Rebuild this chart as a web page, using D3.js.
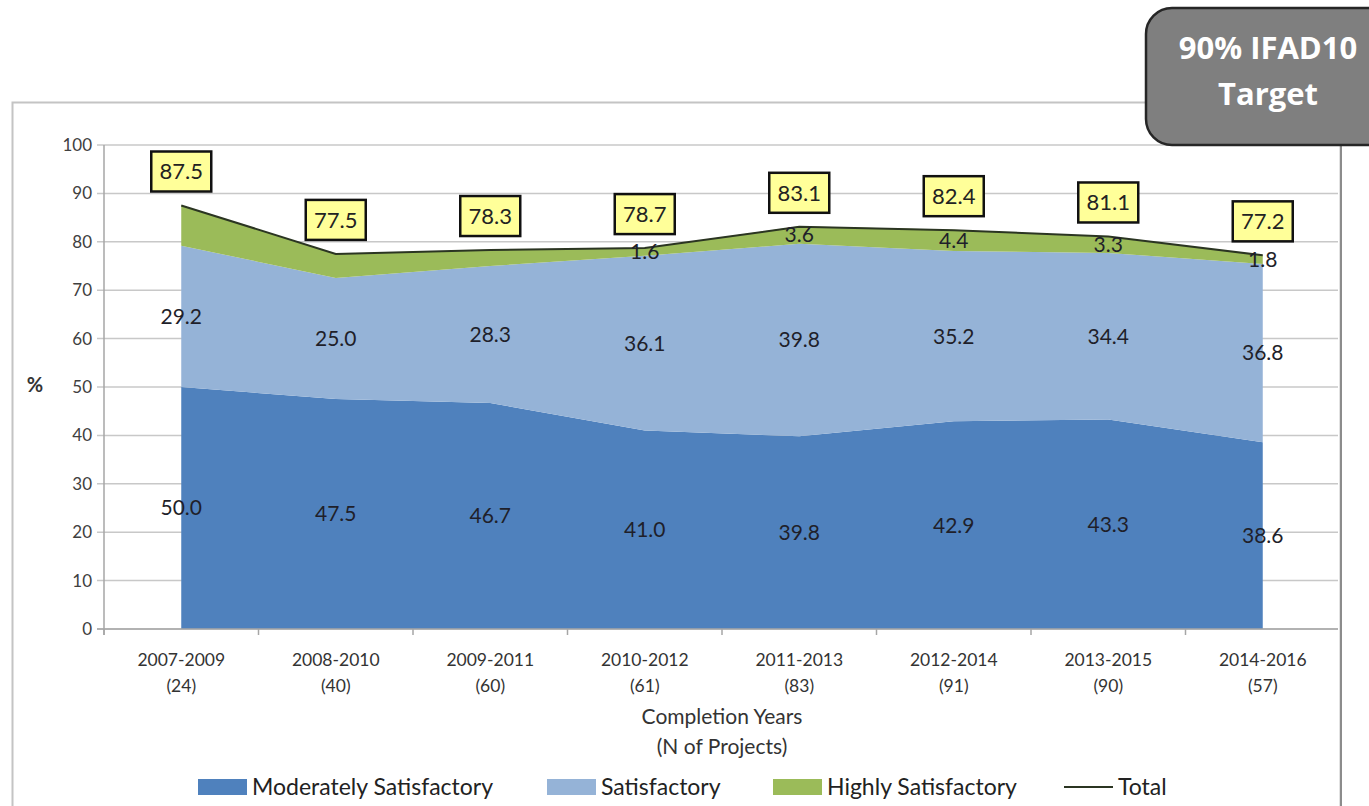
<!DOCTYPE html>
<html>
<head>
<meta charset="utf-8">
<script src="https://cdn.jsdelivr.net/npm/d3@7"></script>
<style>
  body { margin: 0; background: #fff; }
  svg { font-family: Lato, "Open Sans", sans-serif; }
</style>
</head>
<body>
<div id="chart"></div>
<script>
const periods = ["2007-2009", "2008-2010", "2009-2011", "2010-2012", "2011-2013", "2012-2014", "2013-2015", "2014-2016"];
const projectCounts = [24, 40, 60, 61, 83, 91, 90, 57];
const moderately = [50.0, 47.5, 46.7, 41.0, 39.8, 42.9, 43.3, 38.6];
const satisfactory = [29.2, 25.0, 28.3, 36.1, 39.8, 35.2, 34.4, 36.8];
const highly = [8.3, 5.0, 3.3, 1.6, 3.6, 4.4, 3.3, 1.8];
const highlyLabelShown = [false, false, false, true, true, true, true, true];
const total = [87.5, 77.5, 78.3, 78.7, 83.1, 82.4, 81.1, 77.2];
const yTicks = [0, 10, 20, 30, 40, 50, 60, 70, 80, 90, 100];

const W = 1369, H = 806;
const plot = { left: 104, right: 1340, top: 145, bottom: 629 };

const svg = d3.select("#chart").append("svg")
  .attr("width", W).attr("height", H);

// chart frame
svg.append("rect")
  .attr("x", 12.5).attr("y", 102.5)
  .attr("width", 1328).attr("height", 720)
  .attr("fill", "none").attr("stroke", "#c4c4c4").attr("stroke-width", 2);
svg.append("line")
  .attr("x1", 1341).attr("x2", 1341).attr("y1", 102).attr("y2", H)
  .attr("stroke", "#8c8c8c").attr("stroke-width", 2);

const x = d3.scaleBand().domain(periods).range([plot.left, plot.right]);
const cx = (d) => x(d) + x.bandwidth() / 2;
const y = d3.scaleLinear().domain([0, 100]).range([plot.bottom, plot.top]);

// gridlines
svg.append("g")
  .selectAll("line")
  .data(yTicks)
  .enter()
  .append("line")
  .attr("x1", plot.left - 7).attr("x2", plot.right - 2)
  .attr("y1", (d) => y(d)).attr("y2", (d) => y(d))
  .attr("stroke", "#c8c8c8").attr("stroke-width", 1.5);

// y axis labels
svg.append("g")
  .selectAll("text")
  .data(yTicks)
  .enter()
  .append("text")
  .attr("x", 92).attr("y", (d) => y(d))
  .attr("dy", "0.35em")
  .attr("text-anchor", "end")
  .attr("font-size", 17)
  .attr("fill", "#404040")
  .text((d) => d);

svg.append("text")
  .attr("x", 35).attr("y", 392)
  .attr("text-anchor", "middle")
  .attr("font-size", 20).attr("font-weight", "bold")
  .attr("fill", "#333")
  .text("%");

// stacked areas
const rows = periods.map((p, i) => ({
  period: p,
  moderately: moderately[i],
  satisfactory: satisfactory[i],
  highly: highly[i],
}));
const keys = ["moderately", "satisfactory", "highly"];
const colors = { moderately: "#4f81bd", satisfactory: "#95b3d7", highly: "#9bbb59" };
const series = d3.stack().keys(keys)(rows);

const area = d3.area()
  .x((d) => cx(d.data.period))
  .y0((d) => y(d[0]))
  .y1((d) => y(d[1]));

svg.append("g")
  .selectAll("path")
  .data(series)
  .enter()
  .append("path")
  .attr("d", area)
  .attr("fill", (d) => colors[d.key]);

// axes lines
svg.append("line")
  .attr("x1", plot.left).attr("x2", plot.left)
  .attr("y1", plot.top).attr("y2", plot.bottom + 6)
  .attr("stroke", "#a6a6a6").attr("stroke-width", 1.5);
svg.append("line")
  .attr("x1", plot.left - 7).attr("x2", plot.right - 2)
  .attr("y1", plot.bottom).attr("y2", plot.bottom)
  .attr("stroke", "#a6a6a6").attr("stroke-width", 1.5);
svg.append("g")
  .selectAll("line")
  .data(periods)
  .enter()
  .append("line")
  .attr("x1", (d) => x(d)).attr("x2", (d) => x(d))
  .attr("y1", plot.bottom).attr("y2", plot.bottom + 6)
  .attr("stroke", "#a6a6a6").attr("stroke-width", 1.5);

// total line
const totalLine = d3.line()
  .x((d, i) => cx(periods[i]))
  .y((d) => y(d));
svg.append("path")
  .datum(total)
  .attr("d", totalLine)
  .attr("fill", "none")
  .attr("stroke", "#2b3522")
  .attr("stroke-width", 2);

// segment labels
const labelG = svg.append("g")
  .attr("font-size", 21)
  .attr("fill", "#1f1f2a")
  .attr("text-anchor", "middle");

series.forEach((s) => {
  labelG.selectAll(null)
    .data(s.filter((d, i) => s.key !== "highly" || highlyLabelShown[i]))
    .enter()
    .append("text")
    .attr("x", (d) => cx(d.data.period))
    .attr("y", (d) => y((d[0] + d[1]) / 2))
    .attr("dy", "0.35em")
    .text((d) => (d[1] - d[0]).toFixed(1));
});

// total labels in yellow boxes
const boxW = 60, boxH = 40;
const totalG = svg.append("g")
  .selectAll("g")
  .data(total)
  .enter()
  .append("g")
  .attr("transform", (d, i) => `translate(${cx(periods[i])},${y(d) - 34})`);
totalG.append("rect")
  .attr("x", -boxW / 2).attr("y", -boxH / 2)
  .attr("width", boxW).attr("height", boxH)
  .attr("fill", "#ffff99")
  .attr("stroke", "#111").attr("stroke-width", 2.5);
totalG.append("text")
  .attr("text-anchor", "middle")
  .attr("dy", "0.36em")
  .attr("font-size", 22)
  .attr("fill", "#222")
  .text((d) => d.toFixed(1));

// x tick labels
const xLab = svg.append("g")
  .selectAll("text")
  .data(periods)
  .enter()
  .append("text")
  .attr("text-anchor", "middle")
  .attr("font-size", 17.5)
  .attr("fill", "#333");
xLab.append("tspan")
  .attr("x", (d) => cx(d)).attr("y", 666)
  .text((d) => d);
xLab.append("tspan")
  .attr("x", (d) => cx(d)).attr("y", 692)
  .text((d, i) => `(${projectCounts[i]})`);

// x axis title
svg.append("text")
  .attr("text-anchor", "middle")
  .attr("font-size", 21)
  .attr("fill", "#333")
  .selectAll("tspan")
  .data(["Completion Years", "(N of Projects)"])
  .enter()
  .append("tspan")
  .attr("x", 722)
  .attr("y", (d, i) => 724 + i * 30)
  .text((d) => d);

// legend
const legendItems = [
  { label: "Moderately Satisfactory", color: colors.moderately, x: 198, type: "box" },
  { label: "Satisfactory", color: colors.satisfactory, x: 547, type: "box" },
  { label: "Highly Satisfactory", color: colors.highly, x: 773, type: "box" },
  { label: "Total", color: "#2b3522", x: 1064, type: "line" },
];
const legend = svg.append("g")
  .selectAll("g")
  .data(legendItems)
  .enter()
  .append("g")
  .attr("transform", (d) => `translate(${d.x},787)`);
legend.filter((d) => d.type === "box")
  .append("rect")
  .attr("x", 0).attr("y", -8)
  .attr("width", 49).attr("height", 16)
  .attr("fill", (d) => d.color);
legend.filter((d) => d.type === "line")
  .append("line")
  .attr("x1", 0).attr("x2", 49)
  .attr("y1", 0).attr("y2", 0)
  .attr("stroke", (d) => d.color).attr("stroke-width", 2);
legend.append("text")
  .attr("x", 54).attr("dy", "0.35em")
  .attr("font-size", 23)
  .attr("fill", "#222")
  .text((d) => d.label);

// target callout
const callout = svg.append("g");
callout.append("rect")
  .attr("x", 1146).attr("y", 8)
  .attr("width", 260).attr("height", 137)
  .attr("rx", 26)
  .attr("fill", "#7f7f7f")
  .attr("stroke", "#262626").attr("stroke-width", 2.5);
callout.append("text")
  .attr("text-anchor", "middle")
  .attr("font-family", "'Open Sans', sans-serif")
  .attr("font-weight", "bold")
  .attr("font-size", 31)
  .attr("fill", "#fff")
  .selectAll("tspan")
  .data(["90% IFAD10", "Target"])
  .enter()
  .append("tspan")
  .attr("x", 1268)
  .attr("y", (d, i) => 59 + i * 46)
  .text((d) => d);
</script>
</body>
</html>
